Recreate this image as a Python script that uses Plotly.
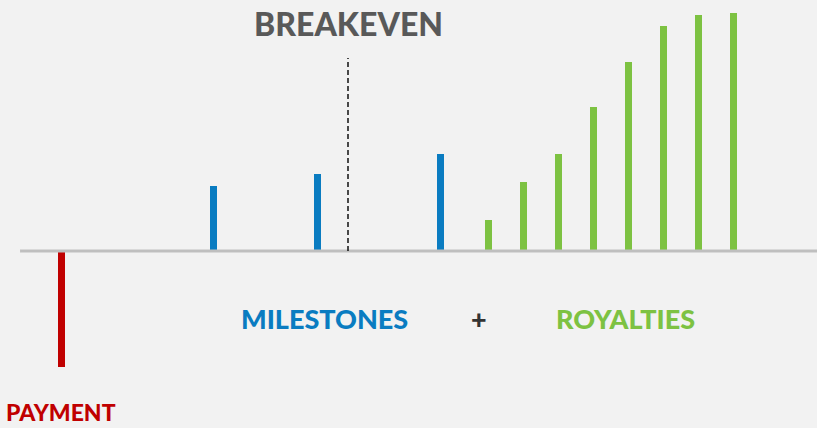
import plotly.graph_objects as go

# time in years from signing, cash flow in $M
payment_t = [0]
payment_v = [-11.6]
milestone_t = [4.37, 7.34, 10.83]
milestone_v = [6.5, 7.7, 9.7]
royalty_t = [12.2, 13.2, 14.2, 15.2, 16.2, 17.2, 18.2, 19.2]
royalty_v = [3.1, 6.9, 9.7, 14.4, 18.9, 22.5, 23.6, 23.8]
breakeven_t = 8.2

RED = "#c00000"
BLUE = "#0a7cc1"
GREEN = "#7dc242"
BG = "#f2f2f2"

fig = go.Figure()
for t, v, c in [(payment_t, payment_v, RED),
                (milestone_t, milestone_v, BLUE),
                (royalty_t, royalty_v, GREEN)]:
    fig.add_trace(go.Bar(x=t, y=v, width=0.2, marker_color=c,
                         marker_line_width=0, showlegend=False,
                         hoverinfo="x+y"))

# baseline and breakeven marker
fig.add_shape(type="line", x0=-1.17, x1=21.7, y0=0, y1=0,
              line=dict(color="#bfbfbf", width=3), layer="above")
fig.add_shape(type="line", x0=breakeven_t, x1=breakeven_t, y0=0, y1=19.3,
              line=dict(color="#111111", width=1.5, dash="5px,3px"))

font = "Lato, 'Open Sans', sans-serif"
labels = [
    ("BREAKEVEN", breakeven_t, 22.8, 32, "#595959"),
    ("MILESTONES", 7.54, -6.7, 27, BLUE),
    ("+", 11.94, -6.7, 27, "#333333"),
    ("ROYALTIES", 16.14, -6.7, 27, GREEN),
    ("PAYMENT", 0, -16.1, 23, RED),
]
for text, x, y, size, color in labels:
    fig.add_annotation(x=x, y=y, text=text, showarrow=False,
                       xanchor="center", yanchor="middle",
                       font=dict(family=font, size=size, color=color,
                                 weight=900))

fig.update_layout(
    width=817, height=428,
    margin=dict(l=0, r=0, t=0, b=0),
    paper_bgcolor=BG, plot_bgcolor=BG,
    bargap=0,
    xaxis=dict(range=[-61 / 35, 756 / 35], visible=False, fixedrange=True),
    yaxis=dict(range=[-17.7, 25.1], visible=False, fixedrange=True),
)

fig.write_html("out.html", config={"displayModeBar": False},
               post_script="document.body.style.margin='0';")
